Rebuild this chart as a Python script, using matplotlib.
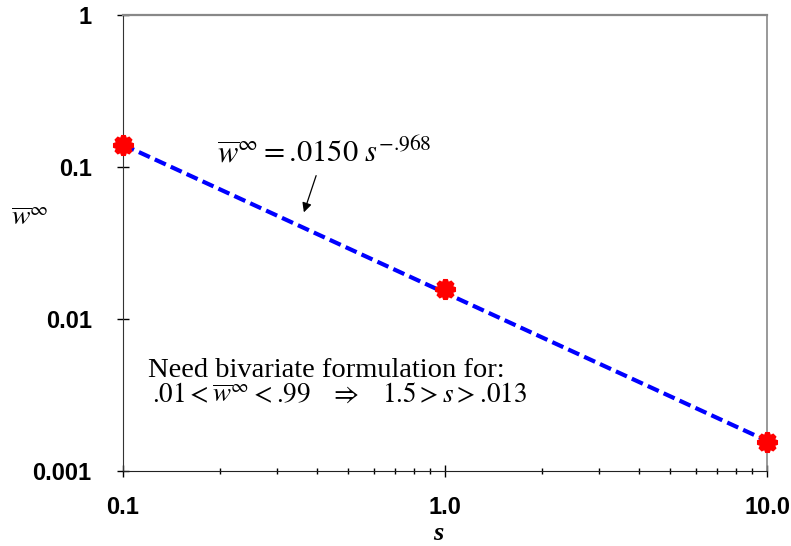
import matplotlib
matplotlib.use("Agg")
import matplotlib.pyplot as plt
from matplotlib.ticker import FixedLocator, NullFormatter, LogLocator

# Data
s_pts = [0.1, 1.0, 10.0]
w_pts = [0.14, 0.0157, 0.00155]
fit_s = [0.1, 10.0]
fit_w = [0.14, 0.00158]

x_ticks = [0.1, 1.0, 10.0]
x_ticklabels = ["0.1", "1.0", "10.0"]
y_ticks = [0.001, 0.01, 0.1, 1]
y_ticklabels = ["0.001", "0.01", "0.1", "1"]

plt.rcParams['mathtext.fontset'] = 'stix'

fig = plt.figure(figsize=(7.91, 5.46), dpi=100)
ax = fig.add_axes([123/791, 1-471/546, (767-123)/791, (471-15)/546])
ax.set_xscale('log')
ax.set_yscale('log')
ax.set_xlim(0.1, 10)
ax.set_ylim(0.001, 1)

ax.plot(fit_s, fit_w, color='#0000FF', lw=3, dashes=(2.9, 1.3), zorder=3, clip_on=False)
ax.plot(s_pts, w_pts, linestyle='none', marker=(8, 1, 0), markersize=14,
        markeredgewidth=3.5, color='#FF0000', zorder=4, clip_on=False)

ax.xaxis.set_major_locator(FixedLocator(x_ticks))
ax.set_xticklabels(x_ticklabels)
ax.xaxis.set_minor_locator(LogLocator(base=10, subs=range(2, 10)))
ax.xaxis.set_minor_formatter(NullFormatter())
ax.yaxis.set_major_locator(FixedLocator(y_ticks))
ax.set_yticklabels(y_ticklabels)
ax.yaxis.set_minor_locator(FixedLocator([]))

for lab in ax.get_xticklabels() + ax.get_yticklabels():
    lab.set_fontfamily('Liberation Sans')
    lab.set_fontweight('bold')
    lab.set_fontsize(17)

ax.tick_params(axis='x', which='major', direction='inout', length=8, width=1, pad=14)
ax.tick_params(axis='x', which='minor', direction='inout', length=4.5, width=1)
ax.tick_params(axis='y', which='major', direction='inout', length=9, width=1, pad=18)

ax.spines['top'].set_color('#888888')
ax.spines['right'].set_color('#888888')
ax.spines['top'].set_linewidth(1.6)
ax.spines['right'].set_linewidth(1.2)
ax.spines['left'].set_color('#333333')
ax.spines['bottom'].set_color('#222222')

fig.text(438/791, 1-533/546, 's', fontfamily='Liberation Serif', fontweight='bold',
         fontstyle='italic', fontsize=19, ha='center', va='center')
fig.text(30/791, 1-217/546, r'$\overline{w}^{\infty}$', fontsize=20, ha='center', va='center')

fig.text(217/791, 1-162/546, r'$\overline{w}^{\infty} = \text{.0150}\ s^{-\text{.968}}$', fontsize=22,
         ha='left', va='baseline')
ax.annotate('', xy=(303/791, 1-215/546), xycoords='figure fraction',
            xytext=(317/791, 1-173/546), textcoords='figure fraction',
            arrowprops=dict(arrowstyle='-|>', color='black', lw=0.9,
                            mutation_scale=14))

fig.text(148/791, 1-377/546, 'Need bivariate formulation for:', fontfamily='Liberation Serif',
         fontsize=20.5, ha='left', va='baseline')
fig.text(152/791, 1-402/546,
         r'$\text{.01} < \overline{w}^{\infty} < \text{.99}\quad \Rightarrow \quad \text{1.5} > s > \text{.013}$',
         fontsize=19.5, ha='left', va='baseline')

fig.savefig('out.png', dpi=100)
